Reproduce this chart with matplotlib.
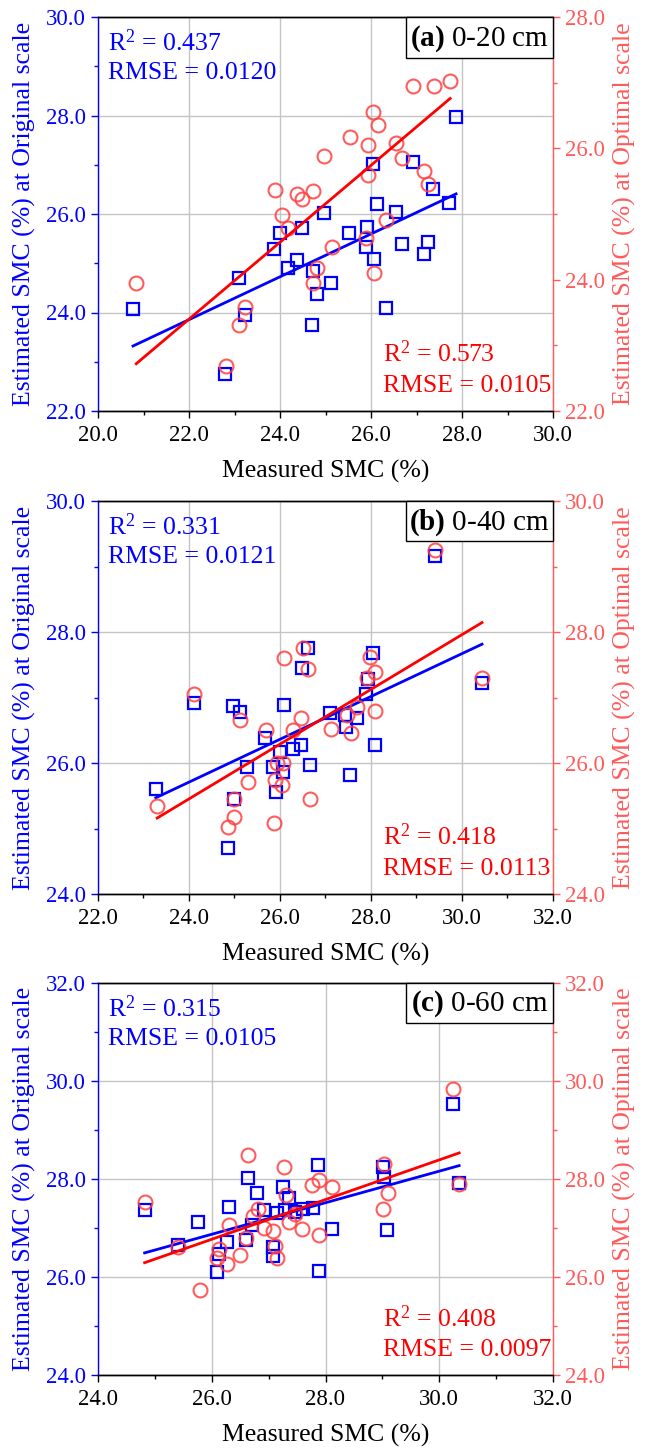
import numpy as np
import matplotlib
matplotlib.use('Agg')
import matplotlib.pyplot as plt
from matplotlib.patches import Rectangle
from matplotlib.ticker import MultipleLocator, FormatStrFormatter

plt.rcParams['font.family'] = 'Liberation Serif'
plt.rcParams['mathtext.fontset'] = 'custom'
plt.rcParams['mathtext.rm'] = 'Liberation Serif'
plt.rcParams['mathtext.bf'] = 'Liberation Serif:bold'
plt.rcParams['mathtext.it'] = 'Liberation Serif:italic'

BLUE = '#0000FF'
RED = '#FF0000'
RED_MK = '#FF4040'
RED_AX = '#FF5A5A'

# ── data: (a) 0-20 cm ─────────────────────────────────────────────────────────
a_x_orig = [20.77, 22.79, 23.10, 23.23, 23.87, 24.00, 24.18, 24.37, 24.48, 24.70,
            24.73, 24.81, 24.97, 25.12, 25.52, 25.89, 25.91, 26.04, 26.07, 26.13,
            26.33, 26.55, 26.68, 26.92, 27.16, 27.25, 27.36, 27.71, 27.87]
a_y_orig = [24.07, 22.75, 24.70, 23.95, 25.29, 25.61, 24.90, 25.07, 25.72, 23.75,
            24.84, 24.38, 26.02, 24.60, 25.61, 25.33, 25.74, 27.02, 25.09, 26.20,
            24.09, 26.04, 25.39, 27.06, 25.19, 25.43, 26.51, 26.22, 27.97]
a_x_opt = [20.84, 22.81, 23.10, 23.23, 23.89, 24.04, 24.18, 24.37, 24.48, 24.73,
           24.73, 24.81, 24.97, 25.14, 25.54, 25.89, 25.93, 25.93, 26.04, 26.07,
           26.15, 26.33, 26.55, 26.68, 26.92, 27.16, 27.25, 27.38, 27.74]
a_y_opt = [23.95, 22.68, 23.31, 23.58, 25.36, 24.98, 24.79, 25.30, 25.23, 25.35,
           23.95, 24.18, 25.88, 24.50, 26.17, 24.63, 26.05, 25.59, 26.55, 24.10,
           26.35, 24.91, 26.08, 25.85, 26.95, 25.65, 25.46, 26.95, 27.02]

# ── data: (b) 0-40 cm ─────────────────────────────────────────────────────────
b_x_orig = [23.27, 24.11, 24.86, 24.97, 24.99, 25.12, 25.27, 25.67, 25.85, 25.91,
            26.00, 26.07, 26.09, 26.29, 26.46, 26.48, 26.62, 26.66, 27.10, 27.43,
            27.45, 27.54, 27.69, 27.89, 27.93, 28.04, 28.09, 29.41, 30.44]
b_y_orig = [25.60, 26.92, 24.70, 26.87, 25.45, 26.78, 25.94, 26.38, 25.94, 25.56,
            26.17, 25.86, 26.89, 26.21, 26.27, 27.45, 27.76, 25.97, 26.76, 26.73,
            26.55, 25.82, 26.69, 27.05, 27.28, 27.68, 26.27, 29.16, 27.22]
b_x_opt = [23.30, 24.11, 24.86, 24.99, 24.99, 25.12, 25.30, 25.69, 25.87, 25.89,
           25.93, 26.04, 26.07, 26.09, 26.29, 26.46, 26.50, 26.62, 26.66, 27.12,
           27.47, 27.56, 27.69, 27.91, 27.98, 28.09, 28.09, 29.41, 30.44]
b_y_opt = [25.34, 27.05, 25.02, 25.18, 25.45, 26.66, 25.71, 26.50, 25.08, 25.74,
           26.00, 25.66, 26.00, 27.60, 26.50, 26.69, 27.76, 27.43, 25.45, 26.52,
           26.73, 26.46, 26.86, 27.30, 27.62, 27.39, 26.79, 29.25, 27.30]

# ── data: (c) 0-60 cm ─────────────────────────────────────────────────────────
c_x_orig = [24.82, 25.40, 25.75, 26.10, 26.12, 26.26, 26.30, 26.61, 26.63, 26.70,
            26.79, 26.92, 27.07, 27.08, 27.14, 27.25, 27.29, 27.36, 27.46, 27.60,
            27.78, 27.87, 27.88, 28.11, 29.01, 29.03, 29.08, 30.25, 30.35]
c_y_orig = [27.37, 26.65, 27.12, 26.10, 26.47, 26.71, 27.43, 26.76, 28.02, 27.06,
            27.71, 27.37, 26.43, 26.61, 27.31, 27.84, 27.37, 27.61, 27.33, 27.39,
            27.41, 28.29, 26.12, 26.98, 28.24, 28.04, 26.96, 29.53, 27.92]
c_x_opt = [24.82, 25.40, 25.80, 26.10, 26.12, 26.26, 26.30, 26.49, 26.61, 26.63,
           26.72, 26.81, 26.92, 27.08, 27.11, 27.14, 27.27, 27.31, 27.36, 27.46,
           27.59, 27.76, 27.88, 27.88, 28.11, 29.01, 29.03, 29.10, 30.25, 30.35]
c_y_opt = [27.53, 26.62, 25.73, 26.39, 26.57, 26.27, 27.06, 26.45, 26.80, 28.50,
           27.24, 27.39, 27.00, 26.94, 26.63, 26.39, 28.24, 27.67, 27.12, 27.29,
           26.98, 27.88, 27.98, 26.86, 27.84, 27.39, 28.31, 27.71, 29.84, 27.90]

# fitted regression lines as drawn in the figure (slope, intercept)
fit_slope_orig = [0.435, 0.327, 0.322]
fit_icpt_orig = [14.285, 17.86, 18.50]
fit_slope_opt = [0.5855, 0.418, 0.405]
fit_icpt_opt = [10.518, 15.42, 16.24]

panel_tags = ['(a)', '(b)', '(c)']
panel_depths = ['0-20 cm', '0-40 cm', '0-60 cm']
r2_orig = ['0.437', '0.331', '0.315']
rmse_orig = ['0.0120', '0.0121', '0.0105']
r2_opt = ['0.573', '0.418', '0.408']
rmse_opt = ['0.0105', '0.0113', '0.0097']

xlims = [(20, 30), (22, 32), (24, 32)]
ylims_left = [(22, 30), (24, 30), (24, 32)]
ylims_right = [(22, 28), (24, 30), (24, 32)]

data = [(a_x_orig, a_y_orig, a_x_opt, a_y_opt),
        (b_x_orig, b_y_orig, b_x_opt, b_y_opt),
        (c_x_orig, c_y_orig, c_x_opt, c_y_opt)]

W, H = 654, 1451
fig = plt.figure(figsize=(W / 100, H / 100), dpi=100)
# axes boxes in pixels: (left, top, right, bottom)
boxes = [(98, 17, 553, 411), (98, 501, 553, 894), (98, 983, 553, 1375)]

TICK_FS = 16.5
LAB_FS = 18.5
ANN_FS = 18.5


def style_yaxis(ax, color):
    ax.tick_params(axis='y', which='both', direction='out', colors=color,
                   labelsize=TICK_FS, width=1)
    ax.tick_params(axis='y', which='major', length=5)
    ax.tick_params(axis='y', which='minor', length=3)
    ax.yaxis.set_major_locator(MultipleLocator(2))
    ax.yaxis.set_minor_locator(MultipleLocator(1))
    ax.yaxis.set_major_formatter(FormatStrFormatter('%.1f'))


for i, (l, t, r, b) in enumerate(boxes):
    ax1 = fig.add_axes([l / W, 1 - b / H, (r - l) / W, (b - t) / H])
    ax2 = ax1.twinx()
    xo, yo, xp, yp = data[i]

    ax1.set_xlim(*xlims[i]); ax1.set_ylim(*ylims_left[i])
    ax2.set_ylim(*ylims_right[i])

    ax1.grid(True, which='major', color='#c4c4c4', lw=1.0)
    ax1.set_axisbelow(True)

    ax1.plot(xo, yo, ls='none', marker='s', ms=8.5, mfc='none', mec=BLUE, mew=1.6, zorder=3)
    ax2.plot(xp, yp, ls='none', marker='o', ms=10, mfc='none', mec=RED_MK, mew=1.5,
             alpha=0.85, zorder=3)

    # linear fits over the data range
    xx = np.array([min(xo), max(xo)])
    ax1.plot(xx, fit_slope_orig[i] * xx + fit_icpt_orig[i], color=BLUE, lw=2, zorder=4)
    xx = np.array([min(xp), max(xp)])
    ax2.plot(xx, fit_slope_opt[i] * xx + fit_icpt_opt[i], color=RED, lw=2, zorder=4)

    # axes styling
    ax1.xaxis.set_major_locator(MultipleLocator(2))
    ax1.xaxis.set_minor_locator(MultipleLocator(1))
    ax1.xaxis.set_major_formatter(FormatStrFormatter('%.1f'))
    ax1.tick_params(axis='x', which='both', direction='out', labelsize=TICK_FS, width=1, pad=5)
    ax1.tick_params(axis='x', which='major', length=5)
    ax1.tick_params(axis='x', which='minor', length=3)
    style_yaxis(ax1, BLUE)
    style_yaxis(ax2, RED_AX)

    ax1.spines['left'].set_color(BLUE)
    ax1.spines['right'].set_visible(False)
    ax2.spines['left'].set_visible(False)
    ax2.spines['right'].set_color(RED_AX)
    for ax in (ax1, ax2):
        ax.spines['top'].set_color('black')
        ax.spines['bottom'].set_color('black')
        for s in ax.spines.values():
            s.set_linewidth(1.0)

    ax1.set_xlabel('Measured SMC (%)', fontsize=LAB_FS, labelpad=10)
    ax1.set_ylabel('Estimated SMC (%) at Original scale', fontsize=LAB_FS, color=BLUE, labelpad=7)
    ax2.set_ylabel('Estimated SMC (%) at Optimal scale', fontsize=LAB_FS, color=RED_AX, labelpad=6)

    # statistics
    ax1.text(0.022, 0.935, f'R$^2$ = {r2_orig[i]}', transform=ax1.transAxes,
             color=BLUE, fontsize=ANN_FS, ha='left', va='center')
    ax1.text(0.022, 0.857, f'RMSE = {rmse_orig[i]}', transform=ax1.transAxes,
             color=BLUE, fontsize=ANN_FS, ha='left', va='center')
    ax2.text(0.626, 0.145, f'R$^2$ = {r2_opt[i]}', transform=ax2.transAxes,
             color=RED, fontsize=ANN_FS, ha='left', va='center', zorder=6)
    ax2.text(0.626, 0.064, f'RMSE = {rmse_opt[i]}', transform=ax2.transAxes,
             color=RED, fontsize=ANN_FS, ha='left', va='center', zorder=6)

    # panel tag box in the upper-right corner
    ax2.add_patch(Rectangle((0.678, 0.897), 0.322, 0.103, transform=ax2.transAxes,
                            fc='white', ec='black', lw=1, zorder=9, clip_on=False))
    ax2.text(0.839, 0.946, r'$\mathbf{' + panel_tags[i] + '}$ ' + panel_depths[i],
             transform=ax2.transAxes, ha='center', va='center', fontsize=21, zorder=10)

fig.savefig('out.png', dpi=100)
